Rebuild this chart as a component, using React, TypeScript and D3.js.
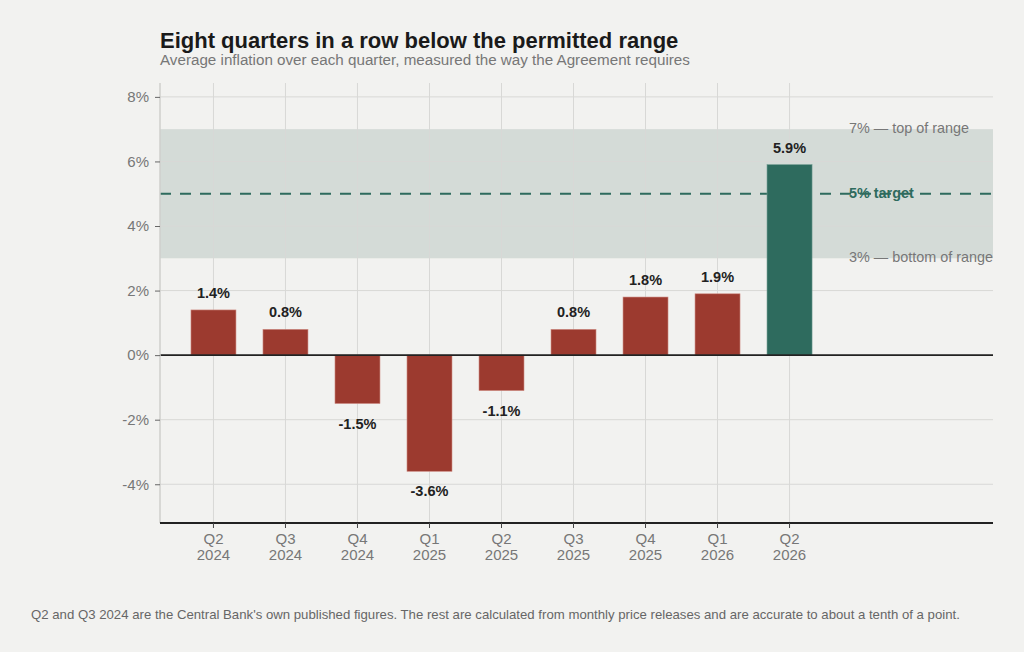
import React, { useEffect, useRef } from "react";
import * as d3 from "d3";

// quarterly average inflation, %
const quarters = ["Q2 2024", "Q3 2024", "Q4 2024", "Q1 2025", "Q2 2025", "Q3 2025", "Q4 2025", "Q1 2026", "Q2 2026"];
const inflation = [1.4, 0.8, -1.5, -3.6, -1.1, 0.8, 1.8, 1.9, 5.9];
const yTicks = [-4, -2, 0, 2, 4, 6, 8];
const rangeLow = 3;
const rangeHigh = 7;
const target = 5;

export default function App() {
  const svgRef = useRef<SVGSVGElement>(null);

  useEffect(() => {
    const width = 1024;
    const height = 652;
    const left = 160;
    const right = 993;
    const top = 83;
    const bottom = 523;
    const font = "'Liberation Sans', Arial, sans-serif";

    const svg = d3.select(svgRef.current);
    svg.selectAll("*").remove(); // start clean

    svg.attr("viewBox", `0 0 ${width} ${height}`).style("font-family", font);

    svg.append("rect").attr("width", width).attr("height", height).attr("fill", "#f2f2f0");

    const x = d3.scaleBand().domain(quarters).range([left, 843]).paddingInner(0.375).paddingOuter(0.43);
    const y = d3.scaleLinear().domain([-5.2, 8.43]).range([bottom, top]);

    // permitted range band
    svg
      .append("rect")
      .attr("x", left)
      .attr("y", y(rangeHigh))
      .attr("width", right - left)
      .attr("height", y(rangeLow) - y(rangeHigh))
      .attr("fill", "#d4dbd7");

    // grid
    svg
      .append("g")
      .selectAll("line")
      .data(yTicks)
      .join("line")
      .attr("x1", left)
      .attr("x2", right)
      .attr("y1", (d) => y(d))
      .attr("y2", (d) => y(d))
      .attr("stroke", "#d8d8d6")
      .attr("stroke-width", 1);

    svg
      .append("g")
      .selectAll("line")
      .data(quarters)
      .join("line")
      .attr("x1", (d) => x(d)! + x.bandwidth() / 2)
      .attr("x2", (d) => x(d)! + x.bandwidth() / 2)
      .attr("y1", top)
      .attr("y2", bottom)
      .attr("stroke", "#d8d8d6")
      .attr("stroke-width", 1);

    // target line
    svg
      .append("line")
      .attr("x1", left)
      .attr("x2", right)
      .attr("y1", y(target))
      .attr("y2", y(target))
      .attr("stroke", "#2e6b5e")
      .attr("stroke-width", 2.2)
      .attr("stroke-dasharray", "11,9");

    // bars
    svg
      .append("g")
      .selectAll("rect")
      .data(inflation)
      .join("rect")
      .attr("x", (_, i) => x(quarters[i])!)
      .attr("width", x.bandwidth())
      .attr("y", (d) => y(Math.max(0, d)))
      .attr("height", (d) => Math.abs(y(d) - y(0)))
      .attr("fill", (_, i) => (i === quarters.length - 1 ? "#2e6b5e" : "#9c3a2f"))
      .attr("stroke", (_, i) => (i === quarters.length - 1 ? "#6f9a90" : "#d08f86"))
      .attr("stroke-width", 0.6);

    // value labels
    svg
      .append("g")
      .selectAll("text")
      .data(inflation)
      .join("text")
      .attr("x", (_, i) => x(quarters[i])! + x.bandwidth() / 2)
      .attr("y", (d) => (d >= 0 ? y(d) - 12 : y(d) + 25))
      .attr("text-anchor", "middle")
      .attr("font-size", 14.5)
      .attr("font-weight", "bold")
      .attr("fill", "#222")
      .text((d) => `${d.toFixed(1)}%`);

    // zero line
    svg
      .append("line")
      .attr("x1", left)
      .attr("x2", right)
      .attr("y1", y(0))
      .attr("y2", y(0))
      .attr("stroke", "#222")
      .attr("stroke-width", 1.6);

    // y axis
    const yAxis = svg
      .append("g")
      .attr("transform", `translate(${left},0)`)
      .call(
        d3
          .axisLeft(y)
          .tickValues(yTicks)
          .tickSize(5)
          .tickPadding(6)
          .tickFormat((d) => `${d}%`)
      );
    yAxis.select(".domain").attr("stroke", "#cfcfcd").attr("stroke-width", 1.5).attr("d", `M0,${top}V${bottom}`);
    yAxis.selectAll(".tick line").attr("stroke", "#666");
    yAxis.selectAll(".tick text").attr("font-size", 15).attr("fill", "#777").attr("font-family", font);

    // x axis
    const xAxis = svg
      .append("g")
      .attr("transform", `translate(0,${bottom})`)
      .call(d3.axisBottom(x).tickSize(5).tickFormat(() => ""));
    xAxis.select(".domain").attr("stroke", "#222").attr("stroke-width", 1.8).attr("d", `M${left},0H${right}`);
    xAxis.selectAll(".tick line").attr("stroke", "#444");
    xAxis
      .selectAll(".tick")
      .append("text")
      .attr("text-anchor", "middle")
      .attr("fill", "#777")
      .attr("font-size", 15)
      .attr("font-family", font)
      .selectAll("tspan")
      .data((d) => (d as string).split(" "))
      .join("tspan")
      .attr("x", 0)
      .attr("y", (_, i) => 21 + i * 16)
      .text((d) => d);

    // range annotations
    const notes = [
      { v: rangeHigh, label: "7% — top of range", color: "#777", bold: false },
      { v: target, label: "5% target", color: "#2e6b5e", bold: true },
      { v: rangeLow, label: "3% — bottom of range", color: "#777", bold: false },
    ];
    svg
      .append("g")
      .selectAll("text")
      .data(notes)
      .join("text")
      .attr("x", 849)
      .attr("y", (d) => y(d.v) + 4)
      .attr("font-size", 14.4)
      .attr("font-weight", (d) => (d.bold ? "bold" : "normal"))
      .attr("fill", (d) => d.color)
      .text((d) => d.label);

    // titles
    svg
      .append("text")
      .attr("x", 160)
      .attr("y", 48)
      .attr("font-size", 22)
      .attr("font-weight", "bold")
      .attr("fill", "#1a1a1a")
      .text("Eight quarters in a row below the permitted range");
    svg
      .append("text")
      .attr("x", 160)
      .attr("y", 65)
      .attr("font-size", 15.2)
      .attr("fill", "#777")
      .text("Average inflation over each quarter, measured the way the Agreement requires");

    svg
      .append("text")
      .attr("x", 31)
      .attr("y", 619)
      .attr("font-size", 13.2)
      .attr("fill", "#666")
      .text(
        "Q2 and Q3 2024 are the Central Bank's own published figures. The rest are calculated from monthly price releases and are accurate to about a tenth of a point."
      );
  }, []);

  return (
    <svg
      ref={svgRef}
      width={1024}
      height={652}
      style={{ position: "absolute", top: 0, left: 0, display: "block" }}
    ></svg>
  );
}
